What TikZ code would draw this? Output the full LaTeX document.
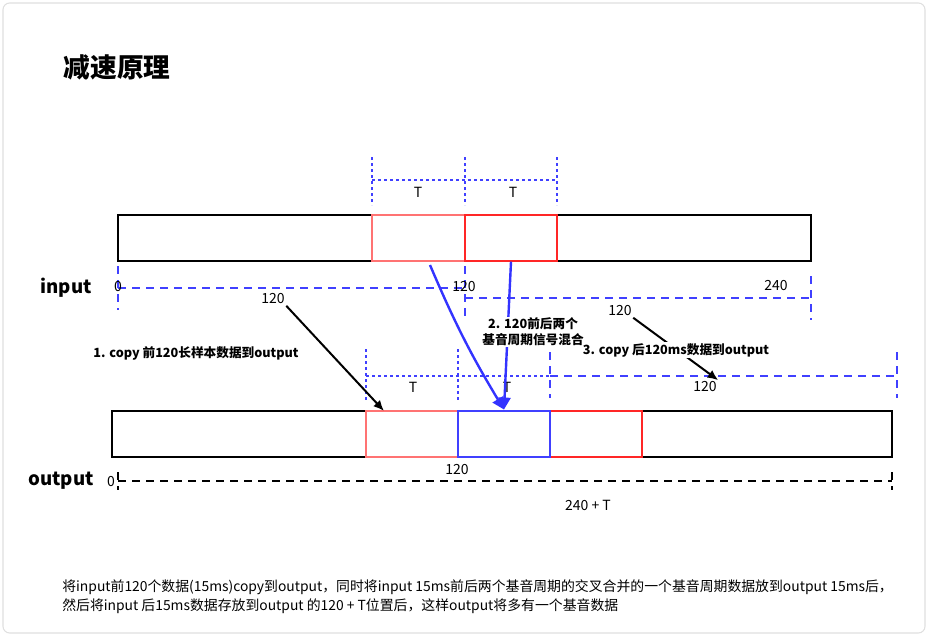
\documentclass[tikz,border=0pt]{standalone}
\usepackage{fontspec}
\setmainfont{Noto Sans CJK SC}
\usetikzlibrary{arrows.meta,fit}
\begin{document}
\begin{tikzpicture}[x=0.75pt,y=-0.75pt]
\tikzset{
  cell/.style={draw, inner sep=0pt, line width=0.9pt},
  softred/.style={cell, draw=red!55},
  hardred/.style={cell, draw=red!85},
  mixcell/.style={cell, draw=blue!75, line width=2.2pt},
  dimdot/.style={blue!75, line width=0.8pt, dash pattern=on 2.5pt off 2pt},
  dimdash/.style={blue!75, line width=1.8pt, dash pattern=on 6pt off 4.5pt},
  basedash/.style={black, line width=1.7pt, dash pattern=on 6pt off 4.5pt},
  lenlabel/.style={font=\fontsize{10.5}{12}\selectfont, inner sep=1pt},
  steplabel/.style={font=\bfseries\fontsize{9.5}{12}\selectfont, align=center, fill=white, inner sep=1pt},
  rowlabel/.style={font=\bfseries\fontsize{14}{16}\selectfont},
  copyarrow/.style={-{Latex[length=8pt,width=7pt]}, line width=1.5pt},
  mixarrow/.style={-{Triangle[length=9pt,width=9pt]}, blue!80, line width=1.8pt}
}
\useasboundingbox (0,0) rectangle (928,636);
\draw[gray!25, line width=0.8pt, rounded corners=5pt] (3,3) rectangle (925,633);
\node[font=\bfseries\fontsize{20}{22}\selectfont] (title) at (117,67) {减速原理};

% input row
\draw[dimdot] (372,157) -- (372,205);
\draw[dimdot] (465,157) -- (465,205);
\draw[dimdot] (557,157) -- (557,205);
\draw[dimdot] (372,180) -- (557,180);
\node[lenlabel] (T1) at (418,192) {T};
\node[lenlabel] (T2) at (513,192) {T};
\node[cell, fit={(118,215) (811,261)}] (inbar) {};
\node[softred, fit={(372,215) (465,261)}] (in1) {};
\node[hardred, fit={(465,215) (557,261)}] (in2) {};
\draw[dimdash] (118,266) -- (118,310);
\draw[dimdash] (118,288) -- (465,288);
\draw[dimdash] (465,266) -- (465,320);
\draw[dimdash] (465,298) -- (811,298);
\draw[dimdash] (811,276) -- (811,320);
\node[rowlabel] (inlabel) at (66,288) {input};
\node[lenlabel] (in0) at (118,287) {0};
\node[lenlabel] (in120) at (464,287) {120};
\node[lenlabel] (in240) at (776,286) {240};
\node[lenlabel] (lenL) at (273,299) {120};
\node[lenlabel] (lenR) at (620,311) {120};

% output row
\draw[dimdot] (366,349) -- (366,402);
\draw[dimdot] (458,349) -- (458,402);
\draw[dimdot] (366,376) -- (550,376);
\draw[dimdash] (550,352) -- (550,398);
\draw[dimdash] (550,376) -- (897,376);
\draw[dimdash] (897,352) -- (897,398);
\node[lenlabel] (T3) at (413,387) {T};
\node[lenlabel] (T4) at (507,387) {T};
\node[lenlabel] (len3) at (705,387) {120};
\node[cell, fit={(112,411) (892,457)}] (outbar) {};
\node[softred, fit={(366,411) (458,457)}] (out1) {};
\node[hardred, fit={(550,411) (642,457)}] (out3) {};
\node[mixcell, fit={(458,411) (550,457)}] (out2) {};
\draw[basedash] (118,472) -- (118,490);
\draw[basedash] (118,481) -- (892,481);
\draw[basedash] (892,472) -- (892,490);
\node[rowlabel] (outlabel) at (61,481) {output};
\node[lenlabel] (out0) at (111,482) {0};
\node[lenlabel] (out120) at (457,470) {120};
\node[lenlabel] (outlen) at (588,505) {240 + T};

% steps
\coordinate (mixA) at (430,265);
\coordinate (copyend) at (384,411);
\draw[copyarrow] (lenL.south east) -- (copyend);
\draw[mixarrow] (mixA) to[bend right=4] (out2.north);
\draw[mixarrow] (in2.south) -- (out2.north);
\draw[copyarrow] (lenR.south east) -- (len3.north east);
\node[steplabel] (step1) at (196,353) {1. copy 前120长样本数据到output};
\node[steplabel] (step2) at (533,332) {2. 120前后两个\\基音周期信号混合};
\node[steplabel] (step3) at (676,350) {3. copy 后120ms数据到output};

\node[anchor=north west, align=left, inner sep=0pt, font=\fontsize{10.4}{14.4}\selectfont] (note) at (62,579)
  {将input前120个数据(15ms)copy到output，同时将input 15ms前后两个基音周期的交叉合并的一个基音周期数据放到output 15ms后，\\
   然后将input 后15ms数据存放到output 的120 + T位置后，这样output将多有一个基音数据};
\end{tikzpicture}
\end{document}
